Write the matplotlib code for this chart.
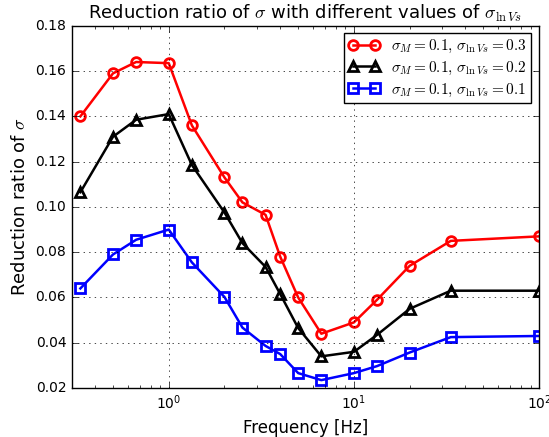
import matplotlib
matplotlib.use('Agg')
import matplotlib.pyplot as plt

plt.style.use('classic')
plt.rcParams['mathtext.fontset'] = 'cm'
plt.rcParams['figure.facecolor'] = 'white'

# frequencies (1/period)
freq = [1/3, 1/2, 1/1.5, 1.0, 1/0.75, 2.0, 2.5, 1/0.3, 4.0, 5.0, 1/0.15, 10.0, 1/0.075, 20.0, 1/0.03, 100.0]

# reduction ratio of sigma
red_03 = [0.140, 0.159, 0.164, 0.1635, 0.136, 0.113, 0.102, 0.0965, 0.078, 0.060, 0.044, 0.049, 0.059, 0.074, 0.085, 0.087]
blk_02 = [0.1065, 0.131, 0.1385, 0.141, 0.1185, 0.0975, 0.084, 0.0735, 0.0615, 0.0465, 0.034, 0.036, 0.0435, 0.055, 0.063, 0.063]
blu_01 = [0.064, 0.079, 0.0855, 0.090, 0.0755, 0.0602, 0.0467, 0.0386, 0.035, 0.0266, 0.0235, 0.0266, 0.0297, 0.0357, 0.0425, 0.043]

labels = [r'$\sigma_M=0.1,\,\sigma_{\ln Vs}=0.3$',
          r'$\sigma_M=0.1,\,\sigma_{\ln Vs}=0.2$',
          r'$\sigma_M=0.1,\,\sigma_{\ln Vs}=0.1$']

fig = plt.figure(figsize=(5.49, 4.37), dpi=100)
ax = fig.add_axes([0.131, 0.112, 0.851, 0.829])

ax.semilogx(freq, red_03, 'r-o', lw=1.8, mfc='none', mec='r', mew=2, ms=7, label=labels[0])
ax.semilogx(freq, blk_02, 'k-^', lw=1.8, mfc='none', mec='k', mew=2, ms=7.5, label=labels[1])
ax.semilogx(freq, blu_01, 'b-s', lw=1.8, mfc='none', mec='b', mew=2, ms=6.5, label=labels[2])

ax.set_xlim(0.3, 100)
ax.set_ylim(0.02, 0.18)
ax.set_yticks([0.02, 0.04, 0.06, 0.08, 0.10, 0.12, 0.14, 0.16, 0.18])
ax.set_yticklabels(['0.02', '0.04', '0.06', '0.08', '0.10', '0.12', '0.14', '0.16', '0.18'])
ax.tick_params(labelsize=10)
ax.grid(True, which='major', linestyle=':', color='k')

ax.set_xlabel('Frequency [Hz]', fontsize=12)
ax.set_ylabel(r'Reduction ratio of $\sigma$', fontsize=13)
ax.set_title(r'Reduction ratio of $\sigma$ with different values of $\sigma_{\ln Vs}$', fontsize=13)

ax.legend(loc='upper right', numpoints=2, fontsize=11, handlelength=2, borderpad=0.3, labelspacing=0.3)

fig.savefig('out.png', dpi=100)
